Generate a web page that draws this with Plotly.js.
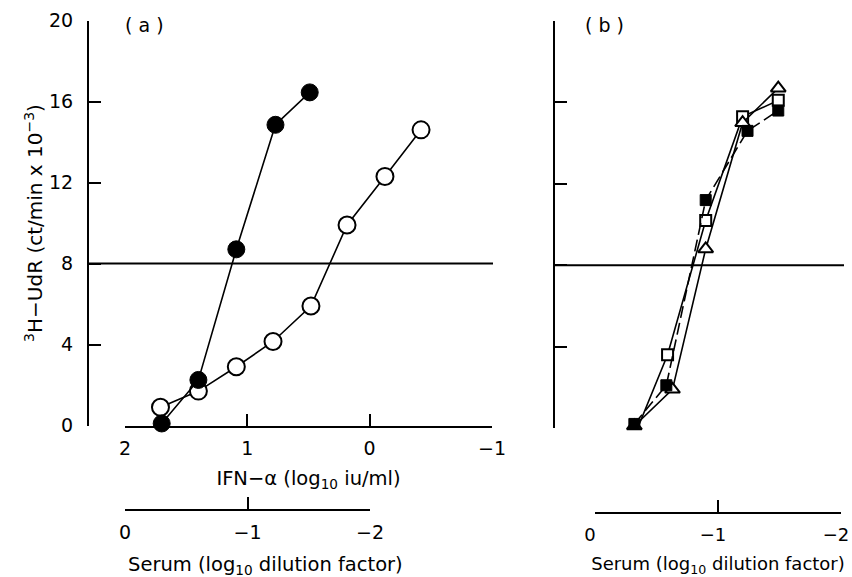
<!DOCTYPE html>
<html>
<head>
<meta charset="utf-8">
<script src="https://cdn.plot.ly/plotly-3.0.1.min.js"></script>
<style>html,body{margin:0;padding:0;background:#fff;}#chart{width:852px;height:577px;}</style>
</head>
<body>
<div id="chart"></div>
<script>
// ---- Data ----
// Panel (a): IFN-alpha dose (log10 iu/ml) vs 3H-UdR (ct/min x 10^-3)
const ifnFilledX = [1.70, 1.40, 1.09, 0.77, 0.49];
const ifnFilledY = [0.1, 2.25, 8.7, 14.85, 16.45];
const ifnOpenX = [1.71, 1.40, 1.09, 0.79, 0.48, 0.185, -0.125, -0.42];
const ifnOpenY = [0.9, 1.7, 2.9, 4.15, 5.9, 9.9, 12.3, 14.6];

// Panel (b): Serum (log10 dilution factor) vs 3H-UdR
const serumFilledSqX = [-0.32, -0.58, -0.90, -1.24, -1.49];
const serumFilledSqY = [0.2, 2.1, 11.2, 14.6, 15.6];
const serumOpenSqX = [-0.32, -0.59, -0.90, -1.20, -1.49];
const serumOpenSqY = [-0.4, 3.6, 10.2, 15.3, 16.1];
const serumTriX = [-0.32, -0.63, -0.90, -1.20, -1.49];
const serumTriY = [0.1, 1.9, 8.8, 15.0, 16.7];

const threshold = [8];
const yTicks = [0, 4, 8, 12, 16, 20];
const ifnTicks = [2, 1, 0, -1];
const serumTicks = [0, -1, -2];
const panelLabels = ['( a )', '( b )'];
const serumTitle = 'Serum (log<sub>10</sub> dilution factor)';

// ---- Layout helpers ----
const W = 852, H = 577;
const px = v => v / W;
const py = v => 1 - v / H;
const FAM = 'DejaVu Sans, Liberation Sans, sans-serif';
const TICKFONT = {family: FAM, size: 19, color: '#000'};
const TITLEFONT = {family: FAM, size: 19.5, color: '#000'};
const RTITLEFONT = {family: FAM, size: 18, color: '#000'};
const YTITLEFONT = {family: FAM, size: 20, color: '#000'};

const lineStyle = {color: '#000', width: 1.6};

const traces = [
  {x: ifnOpenX, y: ifnOpenY, xaxis: 'x', yaxis: 'y', mode: 'lines+markers', cliponaxis: false,
   line: lineStyle, marker: {symbol: 'circle', size: 17, color: '#fff', line: {color: '#000', width: 2}}, showlegend: false},
  {x: ifnFilledX, y: ifnFilledY, xaxis: 'x', yaxis: 'y', mode: 'lines+markers', cliponaxis: false,
   line: lineStyle, marker: {symbol: 'circle', size: 17, color: '#000', line: {color: '#000', width: 1}}, showlegend: false},
  {x: [], y: [], xaxis: 'x2', yaxis: 'y', mode: 'markers', showlegend: false, hoverinfo: 'skip'},
  {x: serumOpenSqX, y: serumOpenSqY, xaxis: 'x3', yaxis: 'y2', mode: 'lines+markers', cliponaxis: false,
   line: lineStyle, marker: {symbol: 'square', size: 11, color: '#fff', line: {color: '#000', width: 2}}, showlegend: false},
  {x: serumTriX, y: serumTriY, xaxis: 'x3', yaxis: 'y2', mode: 'lines+markers', cliponaxis: false,
   line: lineStyle, marker: {symbol: 'triangle-up', size: 13, color: '#fff', line: {color: '#000', width: 2}}, showlegend: false},
  {x: serumFilledSqX, y: serumFilledSqY, xaxis: 'x3', yaxis: 'y2', mode: 'lines+markers', cliponaxis: false,
   line: {color: '#000', width: 1.6, dash: '12px,5px'}, marker: {symbol: 'square', size: 11, color: '#000', line: {color: '#000', width: 1}}, showlegend: false}
];

const axBase = {
  showgrid: false, zeroline: false, showline: true, linecolor: '#000', linewidth: 2,
  ticks: 'inside', ticklen: 12, tickwidth: 2, tickcolor: '#000',
  tickfont: TICKFONT, automargin: false, fixedrange: true, ticklabeloverflow: 'allow'
};

const layout = {
  width: W, height: H,
  margin: {l: 0, r: 0, t: 0, b: 0},
  paper_bgcolor: '#fff', plot_bgcolor: 'rgba(0,0,0,0)',
  font: TICKFONT,
  showlegend: false,
  xaxis: Object.assign({}, axBase, {
    domain: [px(125), px(492)], anchor: 'y', range: [2, -1], autorange: false,
    tickmode: 'array', tickvals: ifnTicks, ticklabelstandoff: 5,
    title: {text: 'IFN\u2212\u03b1 (log<sub>10</sub> iu/ml)', font: TITLEFONT, standoff: 13}
  }),
  xaxis2: Object.assign({}, axBase, {
    domain: [px(125), px(370)], anchor: 'free', position: py(510), range: [0, -2], autorange: false,
    tickmode: 'array', tickvals: serumTicks, ticklabelstandoff: 5
  }),
  xaxis3: Object.assign({}, axBase, {
    domain: [px(595), px(841)], anchor: 'free', position: py(513), range: [0, -2], autorange: false,
    tickmode: 'array', tickvals: serumTicks, ticklabelstandoff: 5, ticklabelshift: 5,
    tickfont: {family: FAM, size: 18, color: '#000'},
    title: {text: serumTitle, font: RTITLEFONT, standoff: 14}
  }),
  yaxis: Object.assign({}, axBase, {
    domain: [py(425.5), py(20.5)], anchor: 'free', position: px(88), range: [0, 20], autorange: false,
    tickmode: 'array', tickvals: yTicks, ticklabelstandoff: 10,
    title: {text: '<sup>3</sup>H\u2212UdR (ct/min x 10<sup>\u22123</sup>)', font: YTITLEFONT, standoff: 0}
  }),
  yaxis2: Object.assign({}, axBase, {
    domain: [py(428), py(21)], anchor: 'free', position: px(554), range: [0, 20], autorange: false,
    tickmode: 'array', tickvals: yTicks, showticklabels: false
  }),
  shapes: [
    {type: 'line', xref: 'paper', yref: 'y', x0: px(88), x1: px(493), y0: threshold[0], y1: threshold[0],
     line: {color: '#000', width: 2}},
    {type: 'line', xref: 'paper', yref: 'y2', x0: px(554), x1: px(844), y0: threshold[0], y1: threshold[0],
     line: {color: '#000', width: 2}}
  ],
  annotations: [
    {text: panelLabels[0], xref: 'paper', yref: 'paper', x: px(144), y: py(25), showarrow: false,
     xanchor: 'center', yanchor: 'middle', font: TICKFONT},
    {text: panelLabels[1], xref: 'paper', yref: 'paper', x: px(604), y: py(25), showarrow: false,
     xanchor: 'center', yanchor: 'middle', font: TICKFONT},
    {text: serumTitle, xref: 'paper', yref: 'paper', x: px(265), y: py(565), showarrow: false,
     xanchor: 'center', yanchor: 'middle', font: TITLEFONT}
  ]
};

Plotly.newPlot('chart', traces, layout, {displayModeBar: false, staticPlot: true});
</script>
</body>
</html>
